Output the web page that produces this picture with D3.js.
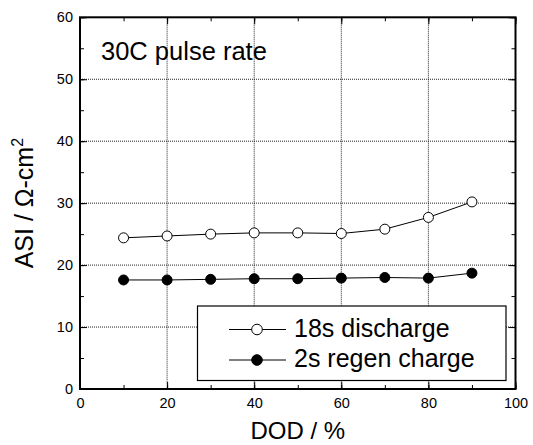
<html>
<head>
<meta charset="utf-8">
<script src="https://d3js.org/d3.v7.min.js"></script>
<style>
  body { margin: 0; background: #fff; }
  text { font-family: "Liberation Sans", Arial, sans-serif; }
</style>
</head>
<body>
<svg id="chart" width="533" height="445"></svg>
<script>
const dod = [10, 20, 30, 40, 50, 60, 70, 80, 90];
const discharge = [24.4, 24.7, 25.0, 25.2, 25.2, 25.1, 25.8, 27.7, 30.2];
const regen = [17.6, 17.6, 17.7, 17.8, 17.8, 17.9, 18.0, 17.9, 18.7];
const seriesNames = ['18s discharge', '2s regen charge'];
const xTicks = [0, 20, 40, 60, 80, 100];
const yTicks = [0, 10, 20, 30, 40, 50, 60];

const svg = d3.select('svg#chart');
const pLeft = 80, pRight = 515.5, pTop = 17.3, pBottom = 389;

const x = d3.scaleLinear().domain([0, 100]).range([pLeft, pRight]);
const y = d3.scaleLinear().domain([0, 60]).range([pBottom, pTop]);

// dotted grid
const grid = svg.append('g');
grid.selectAll('line.gx').data(xTicks.slice(1, -1)).join('line')
    .attr('x1', d => x(d)).attr('x2', d => x(d))
    .attr('y1', pTop).attr('y2', pBottom)
    .attr('stroke', '#222').attr('stroke-width', 1).attr('stroke-dasharray', '1,1');
grid.selectAll('line.gy').data(yTicks.slice(1, -1)).join('line')
    .attr('y1', d => y(d)).attr('y2', d => y(d))
    .attr('x1', pLeft).attr('x2', pRight)
    .attr('stroke', '#222').attr('stroke-width', 1).attr('stroke-dasharray', '1,1');

// axes, ticks pointing inward
const minorX = d3.range(0, 101, 10);
const minorY = d3.range(0, 61, 5);
svg.append('g').attr('transform', `translate(0,${pBottom})`)
   .call(d3.axisBottom(x).tickValues(minorX).tickSize(-4).tickFormat(''))
   .call(g => g.select('.domain').remove());
svg.append('g').attr('transform', `translate(0,${pBottom})`)
   .call(d3.axisBottom(x).tickValues(xTicks).tickSize(-7).tickPadding(9).tickFormat(d3.format('d')))
   .call(g => g.select('.domain').remove())
   .call(g => g.selectAll('text').attr('font-size', 14.5).attr('fill', '#000'));
svg.append('g').attr('transform', `translate(0,${pTop})`)
   .call(d3.axisTop(x).tickValues(minorX).tickSize(-4).tickFormat(''))
   .call(g => g.select('.domain').remove());
svg.append('g').attr('transform', `translate(0,${pTop})`)
   .call(d3.axisTop(x).tickValues(xTicks).tickSize(-7).tickFormat(''))
   .call(g => g.select('.domain').remove());

svg.append('g').attr('transform', `translate(${pLeft},0)`)
   .call(d3.axisLeft(y).tickValues(minorY).tickSize(-4).tickFormat(''))
   .call(g => g.select('.domain').remove());
svg.append('g').attr('transform', `translate(${pLeft},0)`)
   .call(d3.axisLeft(y).tickValues(yTicks).tickSize(-7).tickPadding(7).tickFormat(d3.format('d')))
   .call(g => g.select('.domain').remove())
   .call(g => g.selectAll('text').attr('font-size', 14.5).attr('fill', '#000'));
svg.append('g').attr('transform', `translate(${pRight},0)`)
   .call(d3.axisRight(y).tickValues(minorY).tickSize(-4).tickFormat(''))
   .call(g => g.select('.domain').remove());
svg.append('g').attr('transform', `translate(${pRight},0)`)
   .call(d3.axisRight(y).tickValues(yTicks).tickSize(-7).tickFormat(''))
   .call(g => g.select('.domain').remove());

svg.append('rect')
   .attr('x', pLeft).attr('y', pTop).attr('width', pRight - pLeft).attr('height', pBottom - pTop)
   .attr('fill', 'none').attr('stroke', '#000').attr('stroke-width', 2);

// series
const line = d3.line().x(d => x(d[0])).y(d => y(d[1]));
const series = [
  { name: seriesNames[0], vals: discharge, fill: '#fff' },
  { name: seriesNames[1], vals: regen, fill: '#000' }
];
series.forEach(s => {
  const pts = dod.map((d, i) => [d, s.vals[i]]);
  svg.append('path').datum(pts).attr('d', line)
     .attr('fill', 'none').attr('stroke', '#000').attr('stroke-width', 1);
  svg.append('g').selectAll('circle').data(pts).join('circle')
     .attr('cx', d => x(d[0])).attr('cy', d => y(d[1])).attr('r', 5)
     .attr('fill', s.fill).attr('stroke', '#000').attr('stroke-width', 1);
});

// legend
const lg = svg.append('g');
lg.append('rect').attr('x', 197.5).attr('y', 306).attr('width', 308.5).attr('height', 74.5)
  .attr('fill', '#fff').attr('stroke', '#000').attr('stroke-width', 1.2);
series.forEach((s, i) => {
  const ly = 329.5 + i * 30.5;
  lg.append('line').attr('x1', 229).attr('x2', 286).attr('y1', ly).attr('y2', ly)
    .attr('stroke', '#000').attr('stroke-width', 1);
  lg.append('circle').attr('cx', 257).attr('cy', ly).attr('r', 5.3)
    .attr('fill', s.fill).attr('stroke', '#000');
  lg.append('text').attr('x', 294).attr('y', ly + 7).attr('font-size', 25).text(s.name);
});

// labels
svg.append('text').attr('x', 101).attr('y', 60).attr('font-size', 25.5).text('30C pulse rate');
svg.append('text').attr('x', x(50)).attr('y', 439).attr('text-anchor', 'middle')
   .attr('font-size', 24).text('DOD / %');
const yl = svg.append('text').attr('transform', `translate(33,${y(30)}) rotate(-90)`)
   .attr('text-anchor', 'middle').attr('font-size', 25);
yl.append('tspan').text('ASI / Ω-cm');
yl.append('tspan').attr('dy', -10).attr('font-size', 16).text('2');
</script>
</body>
</html>
